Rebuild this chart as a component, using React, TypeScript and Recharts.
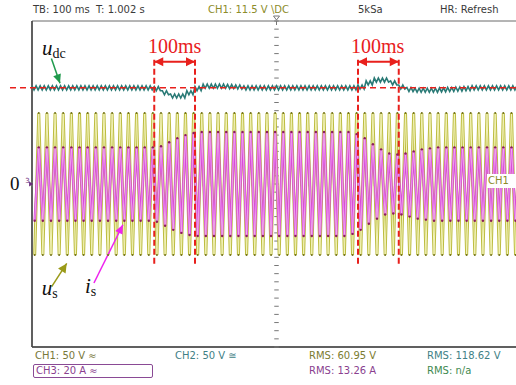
import React from 'react';
import {
  LineChart,
  Line,
  XAxis,
  YAxis,
  CartesianGrid,
  ReferenceLine,
  ReferenceDot,
} from 'recharts';

// peak values per 50 Hz cycle (20 ms), 60 cycles = 1.2 s
const usPeak = [
  87, 87, 87, 87, 87, 87, 87, 87, 87, 87, 87, 87, 87, 87, 87, 87, 87, 87, 87, 87,
  87, 87, 87, 87, 87, 87, 87, 87, 87, 87, 87, 87, 87, 87, 87, 87, 87, 87, 87, 87,
  87, 87, 87, 87, 87, 87, 87, 87, 87, 87, 87, 87, 87, 87, 87, 87, 87, 87, 87, 87,
];
const isPeak = [
  18, 18, 18, 18, 18, 18, 18, 18, 18, 18, 18, 18, 18, 18, 18, 18.5, 20.5, 22.5, 24, 25,
  25.5, 25.5, 25.5, 25.5, 25.5, 25.5, 25.5, 25.5, 25.5, 25.5, 25.5, 25.5, 25.5, 25.5, 25.5, 25.5, 25.5, 25.5, 25.5, 24.5,
  22.5, 19.5, 17, 15, 14.5, 15, 16, 17, 17.5, 18, 18, 18, 18, 18, 18, 18, 18, 18, 18, 18,
];
const udcMean = [
  118, 118, 118, 118, 118, 118, 118, 118, 118, 118, 118, 118, 118, 118, 118, 117, 112, 108, 108, 112,
  117, 120, 120, 120, 119.5, 119, 118, 118, 118, 118, 118, 118, 118, 118, 118, 118, 118, 118, 118, 118,
  119, 124, 127.5, 127.5, 124, 119, 116, 115, 115, 115, 115.5, 116, 116.5, 117, 118, 118, 118, 118, 118, 118,
];
const udcRipple = 2.5; // V, 100 Hz ripple
const udcRef = 118; // V, red dashed reference
const firstPeakMs = 6.6; // first (negative) peak of u_s / i_s
const cycleMs = 20;

const CH1_DIV = 50; // V/div  u_s
const CH2_DIV = 50; // V/div  u_dc
const CH3_DIV = 20; // A/div  i_s

const xTicks = [0, 100, 200, 300, 400, 500, 600, 700, 800, 900, 1000, 1100, 1200];
const yTicks = [-4, -3, -2, -1, 0, 1, 2, 3, 4];
const steps = [300, 400, 800, 900];

const peaks = (amp: number[], perDiv: number) =>
  amp.flatMap((a, k) => [
    { t: firstPeakMs + k * cycleMs, v: -a / perDiv },
    { t: firstPeakMs + k * cycleMs + cycleMs / 2, v: a / perDiv },
  ]);

const usData = peaks(usPeak, CH1_DIV);
const isData = peaks(isPeak, CH3_DIV);
const udcData = udcMean.flatMap((m, k) =>
  [0, 1, 2, 3].map(i => ({
    t: k * cycleMs + i * 5,
    v: (m + (i % 2 === 0 ? udcRipple : -udcRipple)) / CH2_DIV,
  }))
);

const minor = Array.from({ length: 41 }, (_, i) => -4 + i * 0.2);
const minorX = Array.from({ length: 61 }, (_, i) => i * 20);

const serif = "'Liberation Serif', 'DejaVu Serif', serif";
const sans = "'DejaVu Sans', 'Noto Sans', sans-serif";

const arrow = (color: string, w: number, hl: number, hw: number, both = false) =>
  (p: any) => {
    const { x1, y1, x2, y2 } = p;
    const a = Math.atan2(y2 - y1, x2 - x1);
    const head = (x: number, y: number, ang: number) => {
      const bx = x - hl * Math.cos(ang);
      const by = y - hl * Math.sin(ang);
      const nx = -Math.sin(ang) * hw;
      const ny = Math.cos(ang) * hw;
      return `${x},${y} ${bx + nx},${by + ny} ${bx - nx},${by - ny}`;
    };
    return (
      <g>
        <line x1={x1} y1={y1} x2={x2} y2={y2} stroke={color} strokeWidth={w} />
        <polygon points={head(x2, y2, a)} fill={color} />
        {both && <polygon points={head(x1, y1, a + Math.PI)} fill={color} />}
      </g>
    );
  };

const sym = (main: string, sub: string) => (p: any) => (
  <text x={p.cx} y={p.cy} fontFamily={serif} fill="#111">
    <tspan fontSize={21} fontStyle="italic">{main}</tspan>
    <tspan fontSize={14} dy={3}>{sub}</tspan>
  </text>
);

const ms100 = (p: any) => (
  <text x={p.cx} y={p.cy} textAnchor="middle" fontFamily={serif} fontSize={20} fill="#e8201c">
    100ms
  </text>
);

const txt = (left: number, top: number, color: string): React.CSSProperties => ({
  position: 'absolute',
  left,
  top,
  fontSize: 10,
  lineHeight: '12px',
  color,
  whiteSpace: 'pre',
});

export default function App() {
  return (
    <div
      style={{
        position: 'fixed',
        left: 0,
        top: 0,
        width: 516,
        height: 385,
        overflow: 'hidden',
        background: '#fff',
        fontFamily: sans,
      }}
    >
      <LineChart width={530} height={385} margin={{ top: 21, right: 9, bottom: 38, left: 32 }}>
        <CartesianGrid stroke="#6a6a6a" strokeWidth={1} />
        <XAxis
          type="number"
          dataKey="t"
          domain={[0, 1200]}
          ticks={xTicks}
          tick={false}
          tickLine={false}
          axisLine={false}
          height={0}
        />
        <YAxis
          type="number"
          domain={[-4, 4]}
          ticks={yTicks}
          tick={false}
          tickLine={false}
          axisLine={false}
          width={0}
        />
        <ReferenceLine x={0} stroke="#444" strokeWidth={1.5} />
        <ReferenceLine y={-4} stroke="#444" strokeWidth={1.5} />
        {minor.map(v => (
          <ReferenceLine key={'my' + v} segment={[{ x: 594.5, y: v }, { x: 605.5, y: v }]} stroke="#777" />
        ))}
        {minorX.map(t => (
          <ReferenceLine key={'mx' + t} segment={[{ x: t, y: -0.06 }, { x: t, y: 0.06 }]} stroke="#777" />
        ))}

        <Line
          data={usData}
          dataKey="v"
          stroke="#bcbc40"
          strokeWidth={3}
          dot={{ r: 1, fill: '#6f6f14', stroke: 'none' }}
          isAnimationActive={false}
        />
        <Line data={usData} dataKey="v" stroke="#f2f2b8" strokeWidth={1} dot={false} isAnimationActive={false} />
        <Line
          data={isData}
          dataKey="v"
          stroke="#d94ad9"
          strokeWidth={2.5}
          dot={{ r: 1.2, fill: '#8c1e5c', stroke: 'none' }}
          isAnimationActive={false}
        />
        <Line data={isData} dataKey="v" stroke="#f3b4f3" strokeWidth={0.8} dot={false} isAnimationActive={false} />
        <Line data={udcData} dataKey="v" stroke="#2a7a76" strokeWidth={1.6} dot={false} isAnimationActive={false} />

        <ReferenceLine
          segment={[{ x: -54, y: udcRef / CH2_DIV }, { x: 1200, y: udcRef / CH2_DIV }]}
          ifOverflow="visible"
          stroke="#e8201c"
          strokeWidth={1.5}
          strokeDasharray="6 4"
        />
        {steps.map(t => (
          <ReferenceLine
            key={'s' + t}
            segment={[{ x: t, y: 3.05 }, { x: t, y: -2 }]}
            stroke="#e8201c"
            strokeWidth={2}
            strokeDasharray="6 3"
          />
        ))}
        <ReferenceLine segment={[{ x: 300, y: 3 }, { x: 400, y: 3 }]} shape={arrow('#e8201c', 2, 9, 4.5, true)} />
        <ReferenceLine segment={[{ x: 800, y: 3 }, { x: 900, y: 3 }]} shape={arrow('#e8201c', 2, 9, 4.5, true)} />
        <ReferenceDot x={350} y={3.215} r={0} shape={ms100} />
        <ReferenceDot x={848} y={3.215} r={0} shape={ms100} />

        <ReferenceDot x={24.5} y={3.17} r={0} shape={sym('u', 'dc')} />
        <ReferenceLine segment={[{ x: 47.6, y: 3.08 }, { x: 68.7, y: 2.47 }]} shape={arrow('#1f9a4c', 1.5, 9, 4)} />
        <ReferenceDot x={23.8} y={-2.72} r={0} shape={sym('u', 's')} />
        <ReferenceLine segment={[{ x: 48.3, y: -2.52 }, { x: 85.2, y: -1.95 }]} shape={arrow('#9a9a18', 1.5, 9, 4.5)} />
        <ReferenceDot x={130} y={-2.67} r={0} shape={sym('i', 's')} />
        <ReferenceLine segment={[{ x: 152, y: -2.43 }, { x: 223, y: -1.0 }]} shape={arrow('#ee22ee', 1.5, 9, 4)} />

        <ReferenceDot
          x={-54}
          y={-0.15}
          r={0}
          ifOverflow="visible"
          shape={(p: any) => (
            <text x={p.cx} y={p.cy} fontFamily={serif} fontSize={19} fill="#111">
              0
            </text>
          )}
        />
        <ReferenceDot
          x={-7}
          y={0}
          r={0}
          ifOverflow="visible"
          shape={(p: any) => (
            <g>
              <text x={p.cx - 4} y={p.cy - 1} fontFamily={sans} fontSize={7} fill="#6a2a7a">
                3
              </text>
              <polygon points={`${p.cx + 4},${p.cy} ${p.cx},${p.cy - 2.5} ${p.cx},${p.cy + 2.5}`} fill="#6a2a7a" />
            </g>
          )}
        />
        <ReferenceDot
          x={600}
          y={4}
          r={0}
          ifOverflow="visible"
          shape={(p: any) => (
            <g>
              <polygon
                points={`${p.cx - 3},${p.cy - 5} ${p.cx + 3},${p.cy - 5} ${p.cx},${p.cy - 1}`}
                fill="none"
                stroke="#777"
              />
              <line x1={p.cx} y1={p.cy} x2={p.cx} y2={p.cy + 4} stroke="#777" />
            </g>
          )}
        />
      </LineChart>

      <div style={txt(33, 4, '#3a3a3a')}>TB: 100 ms  T: 1.002 s</div>
      <div style={txt(208, 4, '#8c8c2a')}>CH1: 11.5 V \DC</div>
      <div style={txt(358, 4, '#3a3a3a')}>5kSa</div>
      <div style={txt(440, 4, '#3a3a3a')}>HR: Refresh</div>

      <div
        style={{
          ...txt(487, 174, '#8c8c2a'),
          width: 29,
          height: 14,
          lineHeight: '14px',
          background: '#fff',
          paddingLeft: 1,
        }}
      >
        CH1
      </div>

      <div style={txt(35, 350, '#78783a')}>CH1: 50 V ≈</div>
      <div style={txt(175, 350, '#3f7f86')}>CH2: 50 V ≅</div>
      <div
        style={{
          ...txt(33, 364, '#8a3f8f'),
          width: 116,
          height: 12,
          border: '1px solid #8a4a95',
          borderRadius: 2,
          paddingLeft: 2,
        }}
      >
        CH3: 20 A ≈
      </div>
      <div style={txt(309, 350, '#7c7c30')}>RMS: 60.95 V</div>
      <div style={txt(309, 365, '#8a3f8f')}>RMS: 13.26 A</div>
      <div style={txt(427, 350, '#3f7f86')}>RMS: 118.62 V</div>
      <div style={txt(427, 365, '#3f8a50')}>RMS: n/a</div>
    </div>
  );
}
